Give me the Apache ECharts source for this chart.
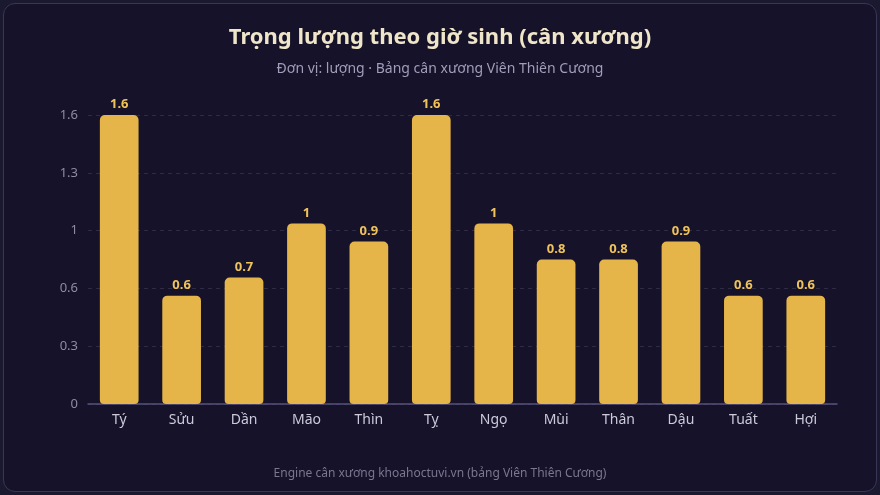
<!DOCTYPE html>
<html>
<head>
<meta charset="utf-8">
<script src="https://cdn.jsdelivr.net/npm/echarts@6/dist/echarts.min.js"></script>
<style>
  html, body { margin: 0; padding: 0; background: #1b1930; }
  #wrap {
    position: absolute; left: 3px; top: 3px;
    width: 872px; height: 487px;
    border: 1px solid #3a3658; border-radius: 12px;
    background: #15122a; overflow: hidden;
  }
  #chart { position: absolute; left: -4px; top: -4px; width: 880px; height: 495px; }
</style>
</head>
<body>
<div id="wrap"><div id="chart"></div></div>
<script>
  // giờ sinh
  const hours = ['Tý', 'Sửu', 'Dần', 'Mão', 'Thìn', 'Tỵ', 'Ngọ', 'Mùi', 'Thân', 'Dậu', 'Tuất', 'Hợi']
  // lượng
  const weights = [1.6, 0.6, 0.7, 1.0, 0.9, 1.6, 1.0, 0.8, 0.8, 0.9, 0.6, 0.6]
  const yMax = 1.6
  const yStep = 0.32

  const fmt = v => String(Math.round(v * 10) / 10)

  let chart = echarts.init(document.getElementById('chart'))
  chart.setOption({
    backgroundColor: 'transparent',
    textStyle: { fontFamily: 'Noto Sans' },
    title: [
      {
        text: 'Trọng lượng theo giờ sinh (cân xương)',
        left: 'center',
        top: 22,
        textStyle: { color: '#efe5c8', fontSize: 22, fontWeight: 'bold', fontFamily: 'Noto Sans' }
      },
      {
        text: 'Đơn vị: lượng · Bảng cân xương Viên Thiên Cương',
        left: 'center',
        top: 57,
        textStyle: { color: '#a29db8', fontSize: 14, fontWeight: 'normal', fontFamily: 'Noto Sans' }
      },
      {
        text: 'Engine cân xương khoahoctuvi.vn (bảng Viên Thiên Cương)',
        left: 'center',
        top: 463,
        textStyle: { color: '#7c7791', fontSize: 12, fontWeight: 'normal', fontFamily: 'Noto Sans' }
      }
    ],
    grid: { left: 88, right: 43, top: 115, bottom: 91 },
    xAxis: {
      type: 'category',
      data: hours,
      axisLine: { lineStyle: { color: '#57527a', width: 1.5 } },
      axisTick: { show: false },
      axisLabel: { color: '#cdc9da', fontSize: 14, margin: 9 }
    },
    yAxis: {
      type: 'value',
      min: 0,
      max: yMax,
      interval: yStep,
      axisLine: { show: false },
      axisTick: { show: false },
      axisLabel: { color: '#8f8ba5', fontSize: 13, margin: 10, formatter: fmt },
      splitLine: { lineStyle: { color: '#2e2b47', type: [4, 4] } }
    },
    series: [{
      type: 'bar',
      data: weights,
      barWidth: '62%',
      itemStyle: { color: '#e5b54a', borderRadius: [5, 5, 4, 4] },
      label: {
        show: true,
        position: 'top',
        distance: 4,
        color: '#f0c35a',
        fontSize: 13,
        fontWeight: 'bold',
        formatter: p => fmt(p.value)
      }
    }]
  })
</script>
</body>
</html>
